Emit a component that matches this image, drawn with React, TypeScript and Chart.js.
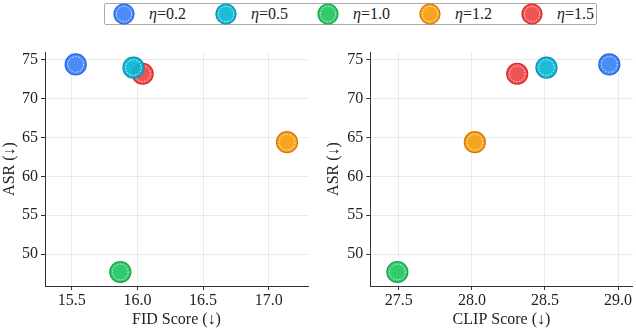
import React, { useEffect, useRef } from "react";
import { Chart, registerables } from "chart.js";

Chart.register(...registerables);

const etaLabels = ["0.2", "0.5", "1.0", "1.2", "1.5"];
const fidScores = [15.53, 15.97, 15.87, 17.14, 16.04];
const clipScores = [28.94, 28.51, 27.49, 28.02, 28.31];
const asrValues = [74.4, 74.0, 47.7, 64.4, 73.2];
const fillColors = ["rgba(59,130,246,0.92)", "rgba(6,182,212,0.92)", "rgba(34,197,94,0.92)", "rgba(245,158,11,0.92)", "rgba(239,68,68,0.92)"];
const edgeColors = ["#2563eb", "#0891b2", "#16a34a", "#d97706", "#dc2626"];
const asrTicks = [50, 55, 60, 65, 70, 75];
const fidTicks = [15.5, 16.0, 16.5, 17.0];
const clipTicks = [27.5, 28.0, 28.5, 29.0];

const FONT = "'Liberation Serif', 'Times New Roman', serif";

const ringPlugin = {
  id: "dashedRing",
  afterDatasetDraw(chart: any, args: any) {
    const meta = args.meta;
    const ctx = chart.ctx;
    ctx.save();
    ctx.strokeStyle = "rgba(255,255,255,0.95)";
    ctx.lineWidth = 0.8;
    ctx.setLineDash([1.6, 1.4]);
    meta.data.forEach((pt: any) => {
      ctx.beginPath();
      ctx.arc(pt.x, pt.y, 7.8, 0, Math.PI * 2);
      ctx.stroke();
    });
    ctx.restore();
  },
};

function makeConfig(xs: number[], xTicks: number[], xMin: number, xMax: number, xTitle: string, yWidth: number, rightPad: number) {
  const datasets = etaLabels.map((eta, i) => ({
    label: "η=" + eta,
    data: [{ x: xs[i], y: asrValues[i] }],
    backgroundColor: fillColors[i],
    borderColor: edgeColors[i],
    borderWidth: 1.2,
    pointRadius: 10.5,
    pointHoverRadius: 10.5,
  }));
  const tickFont = { family: FONT, size: 16 };
  return {
    type: "scatter",
    data: { datasets },
    plugins: [ringPlugin],
    options: {
      responsive: false,
      animation: false,
      devicePixelRatio: 1,
      layout: { autoPadding: false, padding: { top: 12, right: rightPad, left: 0, bottom: 0 } },
      plugins: { legend: { display: false }, tooltip: { enabled: false } },
      scales: {
        x: {
          type: "linear",
          min: xMin,
          max: xMax,
          afterBuildTicks: (s: any) => { s.ticks = xTicks.map((v) => ({ value: v })); },
          afterFit: (s: any) => { s.height = 44; s.paddingLeft = 0; s.paddingRight = 0; },
          ticks: { font: tickFont, color: "#222", padding: 1, callback: (v: any) => Number(v).toFixed(1), maxRotation: 0 },
          grid: { color: "rgba(0,0,0,0.08)", tickColor: "#333", tickLength: 4, lineWidth: 1 },
          border: { display: true, color: "#333", width: 1 },
          title: { display: true, text: xTitle, font: tickFont, color: "#222", padding: { top: 0, bottom: 1 } },
        },
        y: {
          type: "linear",
          min: 45.9,
          max: 76.0,
          afterBuildTicks: (s: any) => { s.ticks = asrTicks.map((v) => ({ value: v })); },
          afterFit: (s: any) => { s.width = yWidth; s.paddingTop = 0; s.paddingBottom = 0; },
          ticks: { font: tickFont, color: "#222", padding: 3 },
          grid: { color: "rgba(0,0,0,0.08)", tickColor: "#333", tickLength: 4, lineWidth: 1 },
          border: { display: true, color: "#333", width: 1 },
          title: { display: true, text: "ASR (↓)", font: tickFont, color: "#222", padding: { top: 0, bottom: 0 } },
        },
      },
    },
  };
}

function Panel(props: { left: number; width: number; cfg: any }) {
  const ref = useRef<HTMLCanvasElement | null>(null);
  useEffect(() => {
    if (!ref.current) return;
    const chart = new Chart(ref.current, props.cfg);
    return () => chart.destroy();
  }, []);
  return (
    <canvas
      ref={ref}
      width={props.width}
      height={290}
      style={{ position: "absolute", left: props.left, top: 40, width: props.width, height: 290 }}
    />
  );
}

function Legend() {
  return (
    <div
      style={{
        position: "absolute",
        left: 104,
        top: 3,
        width: 493,
        height: 22,
        border: "1px solid #aaa",
        borderRadius: 2,
        boxSizing: "border-box",
        fontFamily: FONT,
        fontSize: 16,
        color: "#222",
      }}
    >
      {etaLabels.map((eta, i) => (
        <React.Fragment key={eta}>
          <svg
            width={24}
            height={24}
            style={{ position: "absolute", left: 20 - 12 + 102 * i - 1, top: -2 }}
          >
            <circle cx={12} cy={12} r={10} fill={fillColors[i]} stroke={edgeColors[i]} strokeWidth={1.2} />
            <circle cx={12} cy={12} r={7.6} fill="none" stroke="rgba(255,255,255,0.95)" strokeWidth={0.8} strokeDasharray="1.6 1.4" />
          </svg>
          <span style={{ position: "absolute", left: 44 + 102 * i, top: 0, lineHeight: "20px", whiteSpace: "nowrap" }}>
            <i>η</i>=
            {eta}
          </span>
        </React.Fragment>
      ))}
    </div>
  );
}

export default function App() {
  const leftCfg = makeConfig(fidScores, fidTicks, 15.296, 17.3, "FID Score (↓)", 45, 10);
  const rightCfg = makeConfig(clipScores, clipTicks, 27.305, 29.1, "CLIP Score (↓)", 46.3, 3.3);
  return (
    <div style={{ position: "absolute", left: 0, top: 0, width: 636, height: 330, background: "#fff", overflow: "hidden" }}>
      <Legend />
      <Panel left={0} width={318} cfg={leftCfg} />
      <Panel left={324} width={312} cfg={rightCfg} />
    </div>
  );
}
